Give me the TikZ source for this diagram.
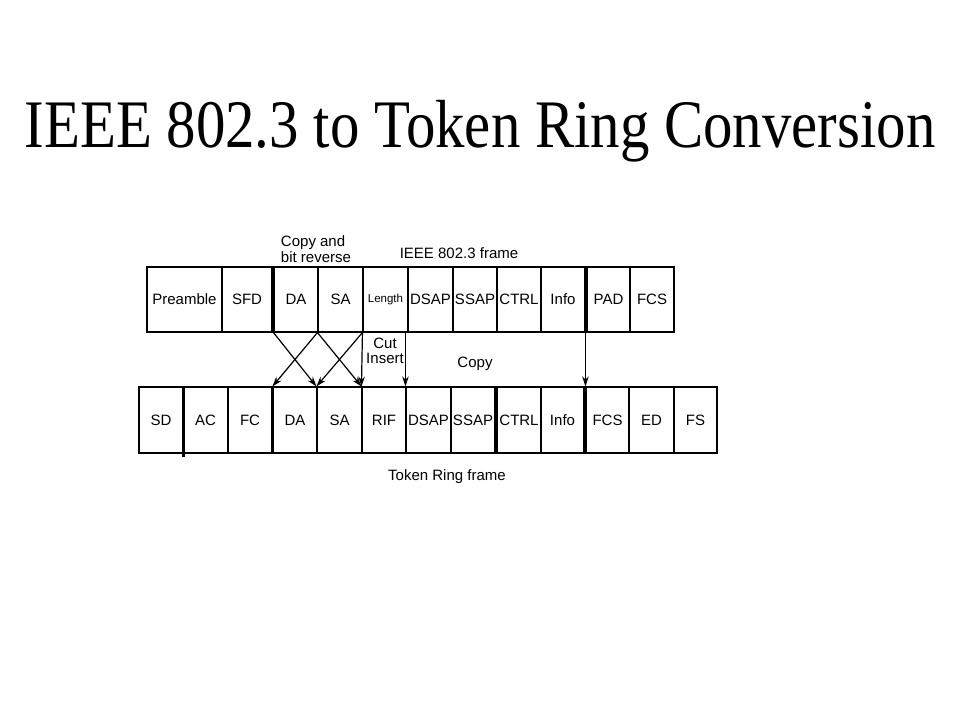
\documentclass[tikz,border=0pt]{standalone}
\usepackage{fontspec}
\usepackage{graphicx}
\setmainfont{Liberation Sans}
\newfontfamily\titlefont{Liberation Serif}
\usetikzlibrary{arrows.meta}
\newcommand\lbl{\fontsize{15}{17}\selectfont}
\newcommand\lsmall{\fontsize{11.5}{13}\selectfont}
\begin{document}
\begin{tikzpicture}[x=1pt,y=-1pt,
  cell/.style={draw, line width=1.1pt, inner sep=0pt, font=\lbl},
  note/.style={font=\lbl, align=center, inner sep=0pt},
  conv/.style={->, line width=1.2pt},
  >={Stealth[length=10pt,width=6.5pt]}]
 \useasboundingbox (0,0) rectangle (960,720);
 \node[anchor=base, inner sep=0pt] (title) at (480,147)
   {\scalebox{0.865}[1]{\titlefont\fontsize{68}{70}\selectfont IEEE 802.3 to Token Ring Conversion}};
  \foreach \l/\r/\n/\t in {147/222/tPre/Preamble, 222/272/tSFD/SFD, 274/318/tDA/DA,
     318/363/tSA/SA, 363/408/tLen/{\lsmall Length}, 408/453/tDSAP/DSAP, 453/497/tSSAP/SSAP,
     497/541/tCTRL/CTRL, 541/585/tInfo/Info, 587/630/tPAD/PAD, 630/674/tFCS/FCS} % IEEE 802.3 frame
    \node[cell, minimum width={(\r-\l)*1pt}, minimum height=65pt] (\n) at ({(\l+\r)/2},299.5) {\t};
  \foreach \l/\r/\n/\t in {139/183/bSD/SD, 183/228/bAC/AC, 228/272/bFC/FC, 273/317/bDA/DA,
     317/362/bSA/SA, 362/406/bRIF/RIF, 406/451/bDSAP/DSAP, 451/495/bSSAP/SSAP,
     497/541/bCTRL/CTRL, 541/584/bInfo/Info, 586/629/bFCS/FCS, 629/674/bED/ED, 674/717/bFS/FS} % token ring frame
    \node[cell, minimum width={(\r-\l)*1pt}, minimum height=66pt] (\n) at ({(\l+\r)/2},420) {\t};
  \draw[line width=2.4pt] (bSD.north east) -- ([yshift=-3pt]bSD.south east); % SD / AC edge
  \node[note, align=left] (cpyrev) at (316,249) {Copy and\\[-1.5pt]bit reverse};
  \node[note] (ieee) at (459,253) {IEEE 802.3 frame};
  \node[note] (cutins) at (385,351) {Cut\\[-1.5pt]Insert};
  \node[note] (cpy) at (475,364) {Copy};
  \node[note] (tring) at (447,477) {Token Ring frame};
  \draw[conv] (tDA.south west) -- (bSA.north west);
  \draw[conv] (tSA.south west) -- (bDA.north west);
  \draw[conv] (tSA.south west) -- (bRIF.north west);
  \draw[conv] (tLen.south west) -- (bSA.north west);
  \draw[conv] (tLen.south west) -- (bRIF.north west);
  \draw[conv] (bDSAP.north west |- tDSAP.south) -- (bDSAP.north west);
  \draw[conv] (bFCS.north west |- tPAD.south) -- (bFCS.north west);
\end{tikzpicture}
\end{document}
